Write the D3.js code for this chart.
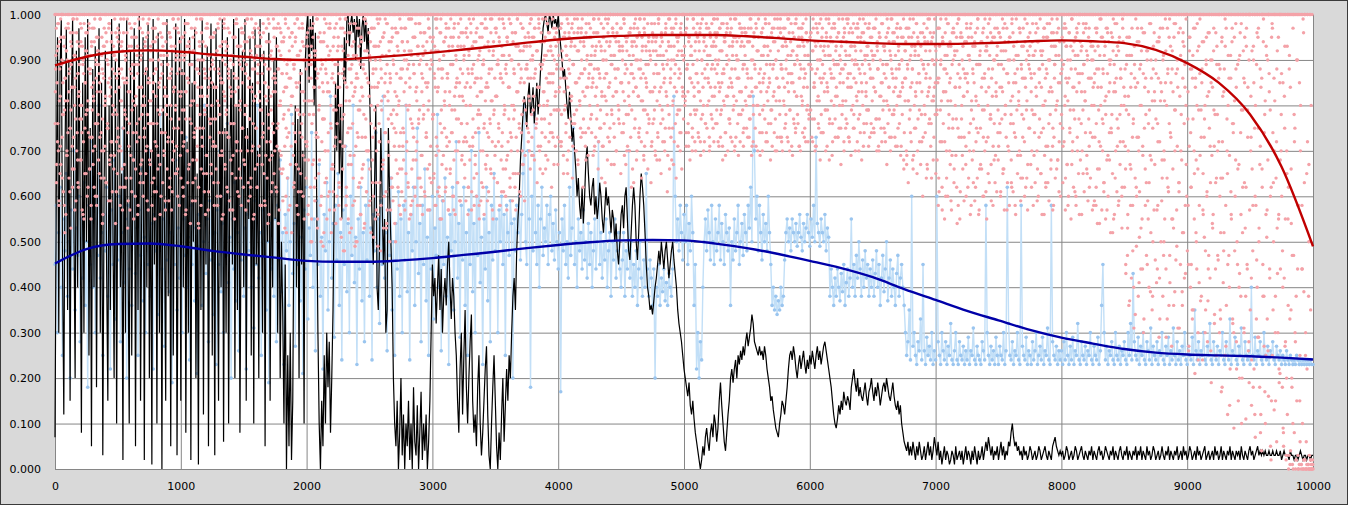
<!DOCTYPE html>
<html>
<head>
<meta charset="utf-8">
<script src="https://cdn.jsdelivr.net/npm/d3@7"></script>
<style>
  html, body { margin: 0; padding: 0; background: #d9d9d9; }
  svg { display: block; }
</style>
</head>
<body>
<div id="chart"></div>
<script>
// samples are spread evenly over 0..10000, values in percent unless noted
var X_MAX = 10000;
var xTicks = [0, 1000, 2000, 3000, 4000, 5000, 6000, 7000, 8000, 9000, 10000];
var yTicks = [0, 0.1, 0.2, 0.3, 0.4, 0.5, 0.6, 0.7, 0.8, 0.9, 1.0];

// black walk, every 10
var blackPct = [
7,60,95,30,88,99,45,12,70,97, 35,90,15,80,99,55,20,92,40,97, 60,8,85,30,95,
50,99,25,75,5,88,40,93,18,70, 97,30,85,3,60,92,45,15,80,35, 99,55,20,90,10,
75,98,40,65,2,85,30,99,50,10, 92,25,70,97,5,80,35,100,15,60, 95,2,88,40,98,
20,70,1,99,45,85,10,96,30,75, 0,90,55,15,99,38,80,5,92,25, 70,98,3,60,95,
15,88,40,99,8,72,30,95,2,85, 50,97,20,65,1,90,35,99,12,78, 45,93,5,70,98,
25,85,3,97,55,15,90,40,99,6, 75,30,95,10,68,88,45,99,20,80, 35,97,8,60,92,
40,99,15,75,55,95,25,85,10,97, 45,70,20,99,60,30,92,5,80,50, 96,15,70,40,90,
55,95,30,70,20,50,35,10,45,0, 25,5,30,2,15,60,80,40,77,20, 88,45,70,10,90,
97,100,85,99,92,100,80,96,60,30, 10,0,15,5,25,10,30,18,28,8, 20,35,60,85,70,
90,65,80,55,75,95,85,99,100,93, 98,100,96,99,90,100,95,99,88,97, 100,94,99,92,97,
85,70,55,45,62,80,40,35,50,75,
60,45,55,30,35,75,60,50,40,20, 10,5,15,0,8,20,3,12,0,10,
5,15,2,10,0,18,6,3,14,0, 8,17,2,10,4,12,0,6,15,30,
45,38,42,32,40,47,35,44,30,38, 42,36,45,50,40,33,42,38,30,25,
15,8,22,30,12,25,35,18,10,20, 28,34,15,8,12,5,18,25,10,3,
8,15,22,27,12,3,0,10,18,25, 15,5,0,8,2,12,20,6,14,22,
15,25,20,30,38,42,35,48,55,60, 68,73,78,82,80,75,82,85,78,80,
84,76,80,85,78,82,88,92,97,99, 100,98,96,100,99,97,100,98,99,97,
100,96,93,90,86,88,84,80,77,83, 78,72,75,70,66,60,64,58,55,62,
54,60,68,71,65,60,58,62,64,56, 60,55,58,63,60,55,52,57,62,58,
60,56,52,57,55,50,54,48,45,50, 56,58,53,60,62,55,48,46,52,58,
62,58,50,46,52,60,65,62,58,52, 45,40,38,35,36,34,37,40,42,45,
48,45,50,47,44,48,50,46,42,45, 48,50,46,43,40,35,32,30,28,25,
22,20,18,16,19,14,12,15,11,8, 6,4,2,0,2,5,3,7,9,6,
4,8,10,7,12,10,6,9,15,19, 14,10,6,4,8,12,15,20,22,19,
22,24,20,25,23,26,24,27,25,28, 30,27,29,31,34,32,28,27,26,25,
27,25,26,24,27,25,22,20,18,15, 16,13,11,9,8,7,10,12,15,14,
12,15,18,22,25,26,24,27,25,22, 20,23,25,22,24,26,23,21,24,22,
25,23,26,24,22,25,27,24,26,23, 25,27,28,26,24,22,20,18,15,12,
10,9,11,14,12,15,13,17,15,14, 16,15,13,18,20,22,19,17,20,16,
18,16,15,17,19,16,14,17,18,20, 17,15,18,16,19,17,14,16,18,19,
17,20,18,16,15,17,19,16,14,13, 15,12,14,10,8,6,5,4,6,3,
5,3,6,4,2,5,3,6,4,2, 3,5,2,4,6,3,5,2,4,7,
5,3,6,2,4,1,3,5,2,4, 3,1,2,4,3,1,5,2,3,4,
2,4,1,3,5,2,4,3,1,4, 2,5,3,1,4,2,3,5,2,4,
6,4,7,5,3,5,2,4,3,5, 2,4,6,3,5,2,4,3,6,5,
8,10,7,5,6,4,5,3,4,2, 5,3,4,2,3,5,4,2,3,4,
2,3,5,4,2,3,4,5,3,2, 4,3,2,5,6,7,5,4,3,4,
3,4,2,3,5,4,2,3,4,2, 3,5,4,2,3,4,5,3,2,4,
3,2,4,3,5,2,4,3,2,4, 5,3,4,2,3,5,4,3,2,4,
3,5,2,4,3,2,4,5,3,2, 4,3,5,2,4,3,2,4,3,5,
2,4,3,5,2,4,3,2,5,3, 4,2,3,5,4,2,3,4,2,3,
5,3,2,4,3,5,2,4,3,2, 4,3,5,2,3,4,2,5,3,4,
2,3,5,4,2,3,4,2,5,3, 4,2,3,4,5,2,3,4,2,3,
4,2,5,3,4,2,3,5,2,4, 3,2,4,3,5,2,4,3,2,4,
3,4,2,5,3,2,4,3,2,4, 5,3,4,2,3,4,5,3,4,3,
4,3,4,3,3,4,3,3,4,3, 3,4,3,3,4,2,3,4,3,3,
3,2,4,3,3,2,3,3,2,3, 4,3,2,3,3,2,3,3,2,3, 3
];

// light blue series, every 10
var bluePct = [
45,58,30,52,62,40,25,55,48,65, 38,50,20,57,44,70,35,53,47,60, 28,55,42,63,36,
50,18,58,45,72,40,55,30,60,47, 80,42,52,25,56,48,62,38,50,22, 57,45,68,33,54,
46,60,28,52,75,41,55,20,58,44, 64,36,50,82,43,53,25,57,47,66, 37,51,30,59,45,
70,38,54,22,56,48,62,34,50,78, 44,55,27,58,46,64,39,52,19,57, 45,68,35,53,42,
60,30,55,47,73,40,51,24,58,45, 66,37,53,21,56,49,62,36,50,80, 43,55,28,59,46,
64,34,52,23,57,45,70,39,54,30, 60,47,76,41,51,20,55,44,63,37, 52,26,58,46,67,
38,53,22,56,48,72,40,55,31,59, 45,80,42,52,25,57,47,65,35,50, 19,54,44,61,38,
55,28,58,46,68,39,52,23,56,48, 64,36,50,78,43,54,27,58,45,66, 37,51,21,57,44,
62,33,53,47,74,40,55,26,59,45, 67,38,51,22,56,48,63,35,50,82, 42,54,29,58,46,
65,36,52,24,57,45,71,39,54,30, 60,47,80,41,51,23,55,44,62,37, 52,28,58,46,68,
38,53,24,56,48,74,40,55,32,59, 45,82,42,52,26,57,47,64,35,50, 25,54,44,61,38,
55,30,58,46,80,39,52,24,56,48, 62,36,50,75,43,54,28,58,45,66, 37,51,25,57,44,
60,33,53,47,78,40,55,26,59,45, 64,38,51,23,56,48,62,35,50,72, 42,54,29,58,46,
62,36,52,25,57,45,70,39,54,30, 60,47,74,41,51,23,55,44,62,37, 52,28,58,46,65,
48,55,30,57,50,60,45,56,25,58, 52,47,59,54,20,55,48,58,52,60, 46,56,65,80,50,
45,70,55,18,60,48,78,52,45,58, 40,55,62,47,53,50,58,45,56,60, 48,54,46,57,50,
44,52,17,55,48,58,45,50,42,62, 47,53,75,45,50,40,55,48,52,44, 57,46,50,42,54,
45,52,40,48,55,44,50,72,45,52, 42,50,46,55,40,48,52,38,50,46, 55,42,48,52,44,
40,46,52,38,48,44,70,42,50,38, 45,40,48,36,44,50,42,38,46,40, 65,44,38,46,42,
36,44,20,40,38,45,36,42,39,44, 37,41,36,43,40,38,44,82,60,50, 55,48,58,52,46,
56,50,58,45,54,48,60,52,36,45, 22,30,20,28,24,40,50,55,48,57, 52,46,58,50,45,
55,48,52,58,46,54,50,45,56,52, 48,53,36,50,46,55,48,52,58,45, 50,54,47,56,52,
48,58,53,62,50,82,70,55,60,48, 58,52,46,56,50,54,48,60,52,45, 36,40,35,38,34,
37,35,40,36,38,46,52,55,50,53, 48,55,52,50,54,49,52,56,51,48, 54,50,53,56,52,
49,55,51,58,50,73,54,52,49,55, 52,50,56,48,53,51,38,44,40,36, 42,38,44,40,37,
43,39,45,36,41,44,38,42,55,40, 45,38,47,42,50,44,38,46,40,48, 42,45,38,44,40,
46,38,43,48,40,45,36,42,47,39, 44,50,37,42,46,38,44,40,36,43, 47,38,42,45,40,
36,30,25,28,35,24,60,27,30,25, 23,28,26,33,24,45,26,23,29,25, 27,24,30,23,26,
24,60,28,25,23,30,26,24,28,23, 27,25,32,24,23,26,30,24,23,28, 25,24,27,23,26,
24,29,23,26,25,31,24,23,27,25, 24,23,28,26,24,58,30,25,23,27, 24,26,23,29,25,
23,27,25,24,30,23,26,62,32,25, 24,28,23,26,25,30,24,23,58,27, 25,24,29,23,26,
25,23,28,24,26,30,23,25,27,24, 29,23,26,25,31,24,23,58,28,25, 24,27,23,26,24,
26,23,28,24,30,25,23,27,24,29, 23,26,25,32,24,23,28,25,24,27, 23,26,25,30,24,
23,27,25,24,29,23,26,36,45,30, 24,27,23,26,25,28,24,23,30,25, 24,27,23,26,25,
28,24,23,30,25,32,24,43,28,25, 24,29,23,27,25,30,24,23,28,26, 24,31,23,27,25,
24,28,23,26,25,30,24,23,27,25, 29,23,26,24,31,25,23,28,24,26, 23,27,25,30,24,
23,27,25,24,29,23,35,26,24,28, 23,26,25,30,24,23,27,25,32,24, 23,28,25,24,27,
23,26,25,30,24,23,28,25,24,33, 23,26,25,29,24,23,27,25,31,24, 23,28,25,24,26,
23,40,25,24,29,23,26,25,28,24, 23,30,25,24,27,23,26,25,28,24, 23,27,25,24,26,
23,25,24,23,26,24,23,25,24,23, 24,23,25,24,23,24,23,24,23,24, 23,24,23,24,23,23
];

// pink points, every 5 starting at 0
var pinkPct = [
100,88,97,100,72,93,100,81,65,99,100,90,78,100,95,58,86,100,92,70,100,98,83,100,75,94,89,100,62,96,100,84,91,77,100,99,68,87,100,93,80,100,97,74,100,90,55,100,85,96,
100,91,79,100,98,66,87,100,94,73,100,82,97,100,60,89,95,100,76,92,100,85,99,100,70,88,100,93,64,100,81,96,100,90,75,100,98,86,100,69,94,100,78,91,100,99,83,100,72,95,
97,100,84,71,100,93,88,100,62,96,100,79,90,100,86,99,74,100,92,57,100,87,95,100,81,68,100,98,89,100,76,93,100,84,97,100,65,91,100,80,99,100,73,94,100,88,100,78,96,100,
85,100,92,70,100,97,83,100,61,94,100,88,76,100,99,90,100,67,86,100,95,79,100,91,100,74,98,100,82,89,100,59,96,100,87,93,100,72,100,84,97,100,80,91,100,66,99,100,88,94,
100,83,95,100,71,90,100,98,77,100,86,63,100,94,89,100,80,97,100,68,92,100,85,100,75,99,100,88,54,100,93,82,100,96,73,100,90,100,79,87,100,65,98,100,84,91,100,76,100,95,
89,100,72,96,100,84,91,100,60,98,100,87,78,100,93,100,69,85,100,99,81,100,92,74,100,97,88,100,57,90,100,83,100,95,76,100,86,98,100,70,93,100,80,100,89,64,100,96,85,100,
92,100,78,87,100,99,70,100,84,95,100,62,91,100,88,76,100,97,100,82,93,100,67,89,100,96,79,100,90,100,73,98,100,85,58,100,94,81,100,99,75,100,88,100,92,69,100,83,97,100,
86,100,93,71,100,98,80,100,66,91,100,87,100,77,95,100,84,100,52,89,100,97,74,100,90,100,82,96,100,69,88,100,94,100,79,99,100,61,85,100,92,100,76,98,100,83,90,100,72,100,
95,100,81,68,100,91,100,86,55,97,100,78,92,100,64,88,100,99,73,100,84,100,94,50,100,89,77,100,96,100,70,87,100,93,60,100,83,98,100,75,100,90,66,100,85,97,100,79,100,92,
100,87,62,99,100,80,93,100,71,88,100,96,100,58,84,100,91,75,100,98,100,67,89,100,82,94,100,49,100,86,97,100,73,90,100,81,100,95,64,100,88,78,100,99,100,70,92,100,85,96,
91,100,76,97,100,63,88,100,84,100,93,57,100,80,98,100,72,90,100,86,100,95,68,100,82,99,100,53,89,100,77,94,100,85,100,62,97,100,79,91,100,100,74,87,100,96,100,81,66,100,
88,100,94,71,100,83,97,100,65,90,100,79,100,92,86,100,58,99,100,75,89,100,95,100,68,84,100,91,77,100,98,100,62,87,100,93,80,100,96,100,73,89,100,85,100,97,64,100,90,100,
94,100,78,87,100,99,69,100,83,92,100,60,96,100,88,74,100,100,91,81,100,95,66,100,86,100,97,72,100,89,100,79,93,100,57,98,100,84,90,100,70,100,95,82,100,99,76,100,87,100,
90,100,73,96,100,85,100,62,92,100,80,98,100,88,71,100,94,100,67,86,100,97,78,100,91,100,83,59,100,95,89,100,75,100,99,84,100,69,93,100,87,100,76,96,100,81,100,92,64,100,
97,100,82,89,100,72,95,100,86,100,61,91,100,98,78,100,88,100,68,94,100,84,99,100,74,90,100,96,100,80,87,100,65,93,100,99,83,100,76,100,92,88,100,70,97,100,85,100,79,100,
93,100,86,74,100,98,90,100,69,95,100,82,100,97,88,100,77,92,100,99,84,100,71,96,100,89,100,80,94,100,66,91,100,98,85,100,76,100,93,87,100,99,73,100,90,100,83,96,100,79,
100,91,84,100,97,72,100,88,95,100,79,100,93,86,100,65,98,100,90,100,82,94,100,76,89,100,99,100,85,70,100,96,92,100,81,100,87,97,100,74,100,93,88,100,68,95,100,84,100,98,
89,100,95,78,100,86,100,99,71,92,100,84,100,96,88,100,75,100,93,64,100,90,97,100,82,100,87,94,100,73,99,100,85,100,91,79,100,96,100,67,88,100,94,83,100,100,77,92,100,97,
100,85,93,100,76,98,100,89,100,70,95,100,82,91,100,97,100,79,87,100,63,94,100,99,84,100,90,100,74,96,100,88,81,100,93,100,69,99,100,86,92,100,78,100,95,100,83,90,100,72,
96,100,87,79,100,94,100,68,91,100,99,83,100,76,95,100,89,100,85,72,100,98,92,100,80,100,93,66,100,88,97,100,75,100,90,84,100,99,100,78,94,100,86,100,70,96,100,91,82,100,
100,93,81,100,97,88,100,74,95,100,86,100,91,70,100,99,84,100,78,96,100,90,100,83,94,100,72,98,100,87,100,80,92,100,76,100,97,89,100,85,100,71,95,100,93,82,100,99,100,88,
90,100,79,96,100,85,100,92,73,100,98,87,100,81,94,100,69,100,91,97,100,84,100,76,99,100,88,93,100,82,100,71,95,100,90,100,86,78,100,97,100,83,94,100,74,100,89,96,100,80,
100,94,86,100,77,99,100,90,83,100,72,95,100,88,100,97,80,100,92,100,85,69,100,96,100,79,91,100,87,100,98,74,100,93,84,100,100,89,76,100,95,100,82,97,100,70,90,100,86,100,
92,100,81,97,100,73,88,100,95,100,84,100,78,93,100,99,87,100,70,100,91,85,100,96,100,76,89,100,98,82,100,93,100,71,86,100,97,100,80,94,100,88,75,100,99,100,84,91,100,78,
100,89,96,100,77,92,100,85,100,71,98,100,88,94,100,81,100,90,74,100,97,86,100,93,100,79,99,100,84,100,91,68,100,95,87,100,76,100,98,89,100,82,93,100,100,73,96,100,85,90,
94,100,80,88,100,97,100,75,91,100,86,99,100,72,100,93,84,100,96,100,78,89,100,92,100,81,98,100,70,100,87,95,100,83,100,99,76,100,90,100,85,93,100,79,97,100,88,100,74,100,
91,100,84,97,100,77,100,93,88,100,70,95,100,82,100,98,89,100,75,92,100,86,100,99,80,100,94,73,100,90,100,87,96,100,79,100,84,100,97,71,100,92,88,100,83,100,95,78,100,99,
100,86,92,100,67,97,100,81,100,90,74,100,95,88,100,69,100,93,83,100,98,100,77,91,100,85,96,100,72,100,89,100,80,94,100,87,100,66,99,100,84,92,100,76,100,95,100,82,89,100,
93,100,78,86,100,64,97,100,89,100,72,95,100,83,100,91,60,100,87,98,100,75,100,94,81,100,69,100,90,96,100,84,100,77,92,100,58,99,100,86,100,73,95,100,88,82,100,100,67,94,
100,85,91,100,70,97,100,79,100,88,63,100,94,100,82,75,100,99,89,100,66,92,100,84,100,96,73,100,87,100,61,93,100,80,98,100,91,100,77,86,100,95,100,68,90,100,83,100,97,74,
89,100,76,95,100,84,100,65,92,100,98,80,100,87,100,71,94,100,90,100,78,62,100,96,85,100,100,73,91,100,88,100,81,97,100,69,100,93,86,100,77,100,99,84,100,64,92,100,89,100,
96,100,83,70,100,91,100,87,78,100,98,100,66,94,100,85,100,92,74,100,89,100,80,97,100,63,88,100,95,100,76,90,100,84,100,99,71,100,93,86,100,79,100,96,68,100,91,100,85,100,
100,88,75,100,94,100,82,97,100,67,90,100,86,100,79,93,100,99,72,100,84,100,91,60,100,96,87,100,77,100,94,100,83,70,100,98,89,100,81,100,92,65,100,86,97,100,74,100,90,100,
93,100,80,87,100,58,96,100,84,100,72,91,100,99,100,77,88,100,63,94,100,82,100,97,69,100,90,85,100,75,100,95,100,55,89,100,83,100,98,71,100,92,100,78,86,100,60,100,94,100,
100,82,66,100,91,47,100,78,95,100,58,87,100,73,100,40,93,100,84,62,100,97,100,70,51,100,89,80,100,44,96,100,75,100,86,63,100,92,55,100,79,100,98,68,100,38,88,100,83,100,
90,100,57,76,100,94,42,100,85,100,68,97,100,50,81,100,92,100,64,87,100,36,99,100,73,100,88,55,100,95,79,100,46,100,90,84,100,61,100,97,70,100,39,86,100,93,100,58,80,100,
100,77,45,95,100,88,62,100,35,91,100,70,100,84,52,100,98,66,100,41,87,100,79,100,94,57,100,73,100,48,90,100,82,37,100,96,100,63,85,100,54,100,92,71,100,44,100,89,78,100,
86,100,60,33,100,94,72,100,48,88,100,25,97,100,65,80,100,40,100,91,56,100,76,100,30,95,100,68,84,100,45,100,90,20,100,74,98,100,52,100,86,63,100,38,93,100,79,100,28,100,
100,70,42,92,100,18,85,100,60,100,33,96,100,75,50,100,88,12,100,66,100,94,38,100,81,25,100,57,90,100,100,44,79,100,15,98,100,63,86,100,30,100,72,53,100,95,22,100,68,100,
87,100,40,8,100,75,55,100,20,93,100,62,3,100,84,35,100,47,10,100,78,100,28,2,90,100,58,0,100,15,70,1,100,44,0,96,2,100,25,0,65,100,1,38,0,100,2,80,0,1,
0
];

// pink points, every 5 starting at 2.5
var pinkPct2 = [
83,100,67,92,76,98,59,88,71,95,100,64,85,78,93,52,81,97,69,90,74,100,87,61,96,79,84,66,99,73,91,57,86,100,70,94,63,82,89,77,98,68,80,93,56,87,100,75,92,65,
79,96,62,88,100,73,91,58,84,97,67,81,94,71,100,86,60,92,78,89,65,99,83,74,95,54,87,70,93,80,100,63,90,76,85,97,68,82,59,94,72,88,100,66,91,79,96,61,86,75,
94,70,87,58,99,81,66,92,75,100,85,62,90,77,96,53,83,71,98,88,64,93,79,100,68,86,95,60,82,74,91,56,89,100,73,97,67,84,78,92,63,100,80,87,70,95,59,85,76,99,
68,90,81,100,63,94,76,87,55,97,82,71,92,66,100,85,78,96,60,89,74,93,100,69,84,57,98,80,91,72,86,100,64,95,77,88,61,99,83,70,93,79,100,65,87,75,96,58,90,82,
91,74,100,62,87,79,96,56,83,93,70,98,85,67,92,100,76,89,59,95,81,73,97,64,88,100,71,84,53,94,78,90,66,99,82,75,100,61,86,93,69,80,97,57,91,77,88,100,65,85,
77,95,63,88,100,71,84,92,58,97,80,69,93,86,100,55,90,74,98,82,66,94,79,100,61,87,73,96,84,68,91,100,57,89,76,95,83,64,99,72,86,93,60,100,81,70,97,75,88,62,
90,67,98,80,73,94,100,59,86,77,92,64,99,83,71,95,56,88,100,75,91,62,85,97,69,81,93,100,58,87,76,96,65,89,82,100,72,94,54,84,98,68,91,79,100,63,86,74,95,70,
85,100,61,93,76,88,57,97,80,69,94,100,66,83,90,53,98,75,87,64,100,79,92,58,86,71,96,82,100,62,89,74,95,67,84,99,56,91,78,100,65,87,73,97,60,93,81,68,100,88,
72,96,58,89,81,100,50,93,76,67,98,84,62,91,100,73,86,55,95,79,68,100,88,60,94,77,83,52,99,70,90,64,100,85,74,97,57,92,80,66,100,87,61,95,71,82,54,98,76,89,
93,63,84,100,55,90,77,97,48,86,71,99,81,60,94,100,67,88,52,96,75,85,100,58,91,69,83,98,50,87,74,100,62,93,79,56,95,84,66,100,89,53,92,73,98,61,86,100,70,82,
59,94,80,100,68,87,51,97,75,90,63,100,84,56,93,72,99,48,88,79,66,95,100,60,85,74,91,54,98,81,69,100,87,57,94,76,62,90,100,71,83,50,96,78,65,92,100,58,86,74,
97,66,88,100,74,92,59,85,100,70,94,62,89,80,99,56,91,76,100,68,87,95,60,83,100,72,93,64,98,79,58,90,100,69,86,77,96,61,92,100,73,84,57,99,81,67,95,100,63,89,
78,100,65,93,84,58,97,71,100,88,62,90,76,99,55,86,100,69,94,80,61,98,73,87,100,57,92,83,66,95,100,74,89,60,97,79,70,100,85,63,93,77,100,59,88,96,68,82,100,72,
91,64,100,80,72,95,56,87,99,68,84,100,61,93,77,89,58,100,74,96,65,86,100,79,55,92,70,98,83,100,62,90,76,97,67,100,85,59,94,73,88,100,66,81,99,57,91,78,100,69,
82,97,100,63,89,75,94,58,100,86,71,99,66,91,80,100,60,87,95,69,100,77,84,62,98,73,90,100,65,88,79,96,57,100,83,70,93,100,61,85,98,74,100,67,92,81,59,95,100,76,
88,100,72,95,81,66,99,78,100,90,69,86,97,100,75,92,63,100,84,98,70,89,100,77,94,65,100,83,91,73,99,100,80,68,96,87,100,74,92,62,100,85,97,79,100,71,93,88,100,67,
94,79,100,86,71,98,90,100,65,83,96,100,76,91,68,100,88,95,73,100,81,97,64,89,100,78,93,70,100,85,99,67,92,100,80,75,96,100,87,62,94,100,82,74,98,90,100,69,86,95,
100,77,91,84,100,69,96,88,100,73,93,100,80,66,99,87,100,75,92,82,100,71,95,86,63,100,90,78,98,100,84,72,94,100,67,89,97,100,76,91,100,83,70,96,100,88,79,93,100,65,
85,100,92,74,99,81,100,67,94,88,100,78,96,70,100,87,62,93,100,83,97,75,100,90,68,95,100,82,73,99,100,86,64,92,100,79,97,71,100,89,84,100,66,94,77,100,91,63,98,100,
76,95,100,84,69,92,100,87,73,98,100,80,91,65,100,94,77,88,100,70,96,83,100,61,90,99,75,100,86,93,68,100,81,97,72,100,89,64,95,100,79,92,100,74,87,98,66,100,83,90,
100,82,96,71,100,89,76,94,100,68,91,100,85,73,99,100,79,92,70,100,87,95,74,100,83,97,69,100,90,78,100,94,72,86,100,98,75,91,100,81,70,96,100,88,77,100,93,72,99,84,
93,100,76,89,100,71,97,84,100,79,92,68,100,87,95,74,100,82,98,70,100,90,77,96,100,85,72,94,100,80,99,100,73,91,86,100,69,95,83,100,78,97,100,88,71,93,100,81,96,75,
87,100,94,73,100,82,97,69,100,90,78,100,95,84,71,100,92,80,99,100,74,88,100,96,70,85,100,93,77,98,100,83,72,91,100,86,95,68,100,79,97,100,89,74,94,100,81,70,99,100,
84,100,73,96,88,100,70,93,81,100,97,76,90,100,85,72,99,100,79,94,100,87,69,92,100,83,98,75,100,91,78,100,95,71,89,100,82,97,74,100,93,86,100,72,96,100,80,91,77,100,
95,79,100,88,72,97,100,84,70,93,100,81,96,76,100,90,68,99,85,100,74,92,100,87,79,100,95,71,83,100,98,77,91,100,86,69,94,100,80,97,73,100,89,82,100,96,75,91,100,67,
88,100,81,95,70,100,92,77,99,100,84,73,96,100,87,69,93,100,80,98,75,100,90,85,100,72,97,83,100,78,94,100,68,89,100,96,74,91,100,82,79,100,93,71,98,100,86,76,95,100,
90,75,100,97,83,100,70,92,88,100,77,95,100,85,72,98,100,81,93,74,100,89,67,96,100,84,79,100,91,73,99,100,86,78,94,100,71,88,100,95,82,100,76,97,69,100,90,84,100,66,
100,81,94,70,100,88,63,97,100,79,91,100,85,68,99,100,75,92,82,100,65,95,100,87,72,100,93,78,100,60,89,98,100,74,86,100,67,94,83,100,77,96,100,64,90,100,81,73,99,85,
92,100,68,85,97,61,100,79,90,100,57,94,83,100,72,88,99,64,100,81,93,100,70,86,59,100,96,77,100,66,91,84,100,62,98,75,100,89,55,95,100,80,69,93,100,73,87,100,60,97,
83,100,64,91,100,76,58,95,100,87,70,100,93,62,81,100,97,74,56,100,89,67,100,94,79,100,60,86,99,100,72,92,100,65,84,100,77,96,59,100,88,71,100,95,63,100,82,91,100,68,
96,100,74,61,89,100,83,97,66,100,78,92,100,57,87,100,70,95,100,81,63,99,100,76,90,100,58,85,100,94,69,100,80,97,100,64,88,100,73,93,100,60,86,100,79,98,67,100,91,75,
100,87,62,94,100,78,69,100,92,84,100,59,97,100,73,88,100,65,91,100,80,95,56,100,86,71,100,98,63,100,83,90,100,68,96,100,75,58,100,89,93,100,66,81,100,97,72,100,60,87,
90,100,71,97,100,80,64,93,100,85,58,100,96,74,100,88,67,100,92,79,100,61,95,100,83,70,100,98,56,87,100,76,93,100,65,89,100,81,97,100,69,91,100,77,62,100,94,86,100,73,
84,100,59,92,100,76,97,66,100,88,54,100,80,95,100,70,87,61,100,93,78,100,57,96,100,83,68,100,90,74,100,52,99,100,85,64,100,91,77,100,58,94,100,72,86,100,62,97,100,80,
100,71,43,89,100,56,82,95,37,100,66,91,100,48,77,100,86,34,100,60,94,100,73,41,88,100,53,97,100,69,30,100,84,58,100,92,45,100,76,63,100,39,90,100,81,50,100,96,67,100,
87,100,44,72,100,95,33,81,100,59,100,90,47,68,100,85,29,100,97,62,100,76,41,93,100,55,100,83,36,100,70,98,100,49,88,100,63,31,100,91,78,100,52,96,100,42,84,100,67,100,
100,58,27,92,100,74,45,100,86,35,100,65,97,100,50,80,100,24,93,100,69,100,38,88,100,56,100,77,30,100,95,61,100,44,83,100,71,26,100,90,53,100,79,34,100,96,64,100,47,100,
89,100,35,64,100,18,82,100,52,100,93,27,100,70,45,100,86,14,100,61,100,97,32,76,100,48,100,88,22,100,66,100,40,91,100,56,10,100,79,100,30,95,100,62,100,44,84,100,19,100,
100,73,24,100,58,90,100,12,80,100,46,100,95,29,100,67,8,100,86,100,38,100,74,17,100,93,51,100,26,100,83,100,5,62,100,97,35,100,70,100,15,100,88,43,100,56,100,21,100,78,
100,48,9,100,82,27,100,3,65,100,36,100,91,1,100,54,18,100,0,100,72,30,100,2,100,44,0,100,85,6,100,1,58,100,0,39,100,2,100,0,22,100,1,67,0,100,2,0,100,1
];

// pink points, every 5 starting at 1.25
var pinkPct3 = [
76,91,63,85,98,70,58,94,82,67,89,73,100,61,95,79,86,56,92,69,81,97,64,88,75,53,93,71,84,99,66,80,90,59,96,74,87,62,83,100,68,94,77,57,89,72,98,65,85,78,
92,60,81,74,97,66,88,55,93,79,70,85,62,99,76,90,58,83,95,68,87,73,100,64,91,77,56,86,97,71,82,63,94,75,89,59,98,67,84,72,96,61,80,93,69,87,54,90,78,65,
73,88,96,62,81,70,94,57,86,99,67,78,91,64,85,100,59,93,76,83,69,97,61,89,74,55,92,80,66,95,72,87,58,99,77,63,90,84,68,96,60,82,75,93,65,88,71,98,57,86,
81,67,93,76,58,90,85,64,97,72,88,61,95,79,69,84,100,56,91,74,87,63,98,70,82,59,94,78,66,89,73,96,62,86,80,57,92,68,99,75,84,65,90,71,97,60,83,77,94,69,
64,87,79,95,60,72,91,83,57,98,70,86,66,93,77,54,89,81,100,63,92,74,85,59,96,68,80,90,62,87,75,99,58,84,71,94,65,88,78,56,97,69,82,91,61,86,73,95,67,80,
90,71,84,58,96,77,66,92,81,63,88,74,99,60,85,70,94,56,83,97,67,89,78,62,93,73,86,59,100,76,82,65,91,69,87,55,95,80,72,98,61,84,90,66,79,93,58,88,75,96,
68,94,80,57,89,73,99,63,86,77,60,92,84,70,96,55,81,90,66,98,75,62,87,93,71,83,58,95,79,67,91,74,100,59,85,69,97,64,88,78,56,94,72,82,61,90,76,99,65,87,
83,62,97,75,88,54,92,70,81,96,65,87,59,94,78,71,99,60,84,73,90,57,86,95,67,80,52,93,76,89,63,98,72,85,58,91,79,66,97,74,87,61,83,94,69,78,55,90,100,64,
71,93,56,86,78,97,62,89,50,81,95,68,84,59,92,74,99,53,87,65,80,96,58,90,72,85,49,94,77,63,88,98,55,83,70,91,61,97,76,52,86,67,93,79,57,89,73,100,60,84,
95,58,80,72,97,51,87,66,92,78,48,85,99,62,90,74,55,96,81,69,88,53,93,76,64,98,59,84,71,91,50,86,79,97,63,89,56,94,73,82,67,99,54,87,77,61,92,70,85,58,
66,90,52,84,97,73,60,93,79,55,88,70,99,49,85,76,63,94,58,81,91,67,53,96,74,87,61,98,57,83,72,92,50,86,78,64,95,59,89,75,54,97,68,82,93,62,80,71,99,56,
86,61,94,75,68,90,57,97,80,72,88,63,99,55,84,77,92,66,59,95,73,87,62,98,70,81,58,93,76,89,64,96,69,83,56,91,78,100,60,85,74,94,66,79,97,57,88,71,92,63,
77,95,64,86,58,92,73,99,61,84,70,90,55,96,79,67,88,59,94,75,83,62,97,71,87,57,93,80,65,99,74,89,60,95,68,82,56,91,77,86,63,98,72,85,59,93,76,69,96,81,
93,67,84,59,97,76,88,62,91,71,80,96,57,87,73,99,64,85,69,94,60,82,90,75,58,95,78,86,63,98,70,89,56,93,81,66,97,74,84,61,92,77,99,65,88,72,55,94,79,86,
71,96,82,63,90,76,99,58,87,68,93,74,85,61,97,79,66,89,57,95,72,84,91,64,98,70,80,59,94,77,87,62,96,73,83,99,65,89,75,92,60,86,78,97,67,81,93,69,88,100,
89,75,96,82,70,93,86,99,73,91,79,95,68,87,100,76,92,84,71,97,80,66,94,88,74,99,83,90,77,95,69,86,98,81,92,72,96,85,78,100,74,91,87,67,95,82,97,79,89,73,
94,83,72,97,88,78,92,100,69,86,95,80,74,91,99,84,70,96,87,77,93,82,98,71,89,96,76,85,100,79,92,68,97,86,81,94,73,90,99,83,77,95,88,71,96,84,91,100,75,87,
80,97,89,74,93,85,99,70,91,82,96,77,88,100,72,94,86,79,98,83,71,95,90,76,92,99,81,87,68,96,84,93,75,100,89,78,97,82,91,73,95,86,70,98,88,80,94,76,92,85,
97,74,90,83,99,69,87,95,78,92,71,100,85,80,96,73,89,94,66,91,86,98,77,84,93,70,97,82,88,75,99,90,72,95,81,87,68,96,79,93,85,74,98,89,76,92,100,83,71,94,
83,92,77,98,70,89,95,81,74,99,87,68,93,84,96,79,72,91,100,86,75,97,82,89,69,94,78,99,85,73,90,96,80,67,93,87,76,98,83,91,71,95,88,79,97,74,92,84,100,77,
91,80,96,74,88,99,83,71,95,86,78,93,100,75,89,97,82,72,94,87,79,98,85,73,92,96,81,77,90,99,84,70,95,88,76,93,100,80,86,97,73,91,84,78,98,89,75,94,82,96,
76,95,87,99,72,90,83,97,78,92,85,71,98,88,80,94,74,96,89,82,100,77,93,86,73,97,84,91,79,95,70,88,99,81,94,76,90,86,98,72,93,83,96,79,89,75,97,91,84,100,
88,73,97,82,94,77,99,86,71,93,80,96,89,75,98,84,92,70,95,87,78,100,83,91,74,97,86,80,93,99,72,89,95,81,76,98,85,92,79,96,71,88,94,83,99,77,90,86,73,97,
95,84,78,99,89,72,93,86,97,80,75,94,88,100,73,91,83,96,79,87,98,71,92,85,77,95,89,74,99,82,90,76,97,86,93,70,88,95,81,98,84,73,91,87,96,79,94,72,89,100,
79,96,88,73,92,99,84,77,94,87,71,97,90,82,75,98,86,93,78,95,89,74,100,83,91,70,96,85,79,93,99,76,88,94,81,97,72,90,86,98,77,92,84,95,73,89,99,80,87,75,
93,78,99,85,72,96,89,81,94,76,98,87,73,91,84,97,79,90,100,75,86,93,70,97,82,89,95,77,88,99,74,92,85,96,80,71,94,87,98,83,76,91,97,79,89,73,95,86,92,81,
86,97,74,91,83,99,77,94,88,71,96,82,90,75,98,85,79,93,87,100,72,95,81,89,76,97,84,92,70,99,88,78,94,83,96,73,91,86,80,98,75,93,89,82,97,71,90,85,95,68,
74,92,86,97,69,89,81,95,77,99,84,72,93,88,66,96,80,91,75,98,85,70,94,87,79,100,67,90,83,96,73,88,95,78,92,64,97,82,89,76,99,86,71,94,81,90,68,96,84,78,
65,90,79,97,58,86,93,72,99,81,62,94,76,88,55,96,83,70,91,60,98,78,85,67,93,57,89,75,97,63,92,80,69,95,54,87,99,73,84,61,96,77,90,66,82,59,94,86,71,98,
87,62,95,74,90,56,98,81,68,93,77,85,59,96,72,89,64,99,80,57,91,75,94,66,86,60,97,79,70,92,83,55,95,73,88,63,99,78,67,94,82,58,90,76,97,69,85,61,93,79,
71,96,84,60,92,77,99,66,88,57,94,80,73,97,63,90,85,58,95,76,68,98,82,61,93,74,87,56,99,79,65,91,83,70,96,59,89,78,64,97,86,72,94,62,90,81,57,95,75,88,
93,67,86,79,98,58,91,74,63,96,82,70,94,60,88,77,99,65,84,56,92,75,97,69,81,62,95,87,71,90,59,98,78,66,93,83,57,96,73,89,64,91,80,99,68,85,61,94,76,87,
78,95,63,89,72,98,57,86,93,67,81,60,96,75,90,55,99,70,84,62,94,77,88,58,97,73,91,65,85,100,68,92,56,87,79,96,61,83,74,98,66,90,59,95,71,86,64,93,80,57,
90,58,85,73,97,62,88,54,93,79,66,99,71,84,57,95,76,63,91,81,55,97,68,87,60,94,74,89,52,96,78,65,92,83,56,98,70,86,61,93,75,59,95,67,88,80,53,99,72,84,
62,88,45,79,95,53,70,36,91,67,84,42,97,58,76,31,89,64,99,49,73,85,38,94,61,80,44,92,55,71,87,33,96,66,78,47,90,59,83,40,98,69,52,86,35,75,93,57,81,46,
77,41,94,58,86,29,72,97,50,83,64,38,91,70,55,99,44,80,33,88,61,95,47,74,85,27,92,66,53,98,39,79,87,57,71,31,96,63,82,45,90,68,36,94,52,76,89,43,99,60,
48,83,26,71,95,40,62,88,33,77,97,55,21,86,68,44,92,30,79,58,99,37,73,85,24,65,94,51,80,35,89,60,28,96,47,75,42,90,19,69,84,56,97,32,78,63,25,93,70,46,
72,30,88,52,17,95,64,41,83,25,99,58,36,77,12,91,47,69,22,86,55,94,33,74,9,81,60,98,28,50,89,15,67,43,96,38,79,20,62,92,31,85,53,11,97,45,73,26,90,57,
35,82,14,66,48,93,22,75,7,58,89,40,29,97,53,18,71,84,4,62,45,99,27,78,10,56,91,33,68,16,87,42,60,2,95,25,74,50,13,81,38,64,6,92,30,55,19,85,44,70,
60,18,85,5,42,93,28,2,70,12,55,0,88,33,4,66,20,1,97,47,8,75,0,38,15,90,3,58,1,25,80,0,44,10,99,2,63,0,30,6,1,72,0,50,3,0,35,1,0,2
];

// smooth trends, every 250, plain fractions
var redTrend = [.888,.907,.918,.921,.918,.912,.907,.902,.900,.901,.905,.910,.916,.923,.930,.938,.945,.950,.953,.955,
  .955,.955,.952,.948,.943,.940,.937,.935,.935,.936,.938,.941,.943,.941,.937,.922,.893,.850,.780,.665,.490];
var blueTrend = [.452,.484,.495,.496,.490,.480,.472,.465,.458,.456,.456,.459,.464,.471,.478,.486,.493,.499,.503,.504,
  .503,.496,.486,.473,.458,.442,.422,.396,.372,.348,.327,.306,.289,.276,.264,.256,.252,.250,.248,.245,.241];

var W = 1348, H = 505;
var plotL = 55, plotR = 1313, plotT = 14.5, plotB = 469;

function spread(arr, div) {
  var n = arr.length;
  return arr.map(function(v, i) { return { x: i * X_MAX / (n - 1), y: v / div }; });
}
// the extra pink sets sit between the first one's samples
function spreadAt(arr, div, frac) {
  var n = arr.length;
  return arr.map(function(v, i) { return { x: (i + frac) * X_MAX / n, y: v / div }; });
}

var svg = d3.select("#chart").append("svg")
  .attr("width", W)
  .attr("height", H);

svg.append("rect")
  .attr("x", 0.5).attr("y", 0.5)
  .attr("width", W - 1).attr("height", H - 1)
  .attr("fill", "#d9d9d9")
  .attr("stroke", "#3a3a3a");

var x = d3.scaleLinear().domain([0, X_MAX]).range([plotL, plotR]);
var y = d3.scaleLinear().domain([0, 1]).range([plotB, plotT]);

svg.append("rect")
  .attr("x", plotL).attr("y", plotT)
  .attr("width", plotR - plotL).attr("height", plotB - plotT)
  .attr("fill", "white");

// grid
svg.append("g")
  .attr("transform", "translate(0," + plotB + ")")
  .call(d3.axisBottom(x).tickValues(xTicks).tickSize(-(plotB - plotT)).tickFormat(""))
  .call(function(g) { g.select(".domain").remove(); })
  .selectAll("line").attr("stroke", "#868686");

svg.append("g")
  .attr("transform", "translate(" + plotL + ",0)")
  .call(d3.axisLeft(y).tickValues(yTicks).tickSize(-(plotR - plotL)).tickFormat(""))
  .call(function(g) { g.select(".domain").remove(); })
  .selectAll("line").attr("stroke", "#868686");

// labels
var xl = svg.append("g")
  .attr("transform", "translate(0," + plotB + ")")
  .call(d3.axisBottom(x).tickValues(xTicks).tickSize(0).tickPadding(13).tickFormat(d3.format("d")));
xl.select(".domain").remove();
xl.attr("font-family", "DejaVu Sans").attr("font-size", 11);
xl.selectAll("text").attr("fill", "#000");

var yl = svg.append("g")
  .attr("transform", "translate(" + plotL + ",0)")
  .call(d3.axisLeft(y).tickValues(yTicks).tickSize(0).tickPadding(14).tickFormat(d3.format(".3f")));
yl.select(".domain").remove();
yl.attr("font-family", "DejaVu Sans").attr("font-size", 11);
yl.selectAll("text").attr("fill", "#000");

var line = d3.line().x(function(d) { return x(d.x); }).y(function(d) { return y(d.y); });

// light blue with markers
var blueData = spread(bluePct, 100);
svg.append("path")
  .datum(blueData)
  .attr("fill", "none")
  .attr("stroke", "#c2dff7")
  .attr("stroke-width", 1.4)
  .attr("d", line);
svg.append("g").selectAll("circle")
  .data(blueData)
  .join("circle")
  .attr("cx", function(d) { return x(d.x); })
  .attr("cy", function(d) { return y(d.y); })
  .attr("r", 1.8)
  .attr("fill", "#9ac5ef");

// black walk
svg.append("path")
  .datum(spread(blackPct, 100))
  .attr("fill", "none")
  .attr("stroke", "#000")
  .attr("stroke-width", 1.2)
  .attr("d", line);

// pink scatter
var pinkData = spread(pinkPct, 100)
  .concat(spreadAt(pinkPct2, 100, 0.5))
  .concat(spreadAt(pinkPct3, 100, 0.25));
svg.append("g").selectAll("circle")
  .data(pinkData)
  .join("circle")
  .attr("cx", function(d) { return x(d.x); })
  .attr("cy", function(d) { return y(d.y); })
  .attr("r", 1.7)
  .attr("fill", "#f4a2a8");

// trends
var smooth = d3.line().curve(d3.curveMonotoneX)
  .x(function(d) { return x(d.x); }).y(function(d) { return y(d.y); });

svg.append("path")
  .datum(spread(blueTrend, 1))
  .attr("fill", "none")
  .attr("stroke", "#0000a8")
  .attr("stroke-width", 2.4)
  .attr("d", smooth);

svg.append("path")
  .datum(spread(redTrend, 1))
  .attr("fill", "none")
  .attr("stroke", "#c00000")
  .attr("stroke-width", 2.4)
  .attr("d", smooth);
</script>
</body>
</html>
